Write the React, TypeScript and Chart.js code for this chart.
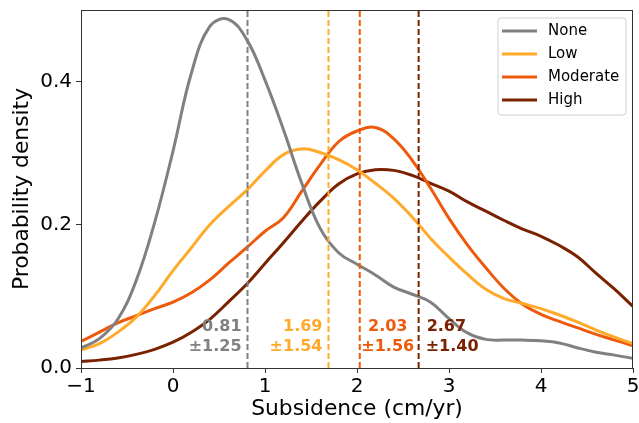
import React, { useEffect, useRef } from "react";
import { Chart, registerables } from "chart.js";

Chart.register(...registerables);

const xGrid = [-1, -0.8, -0.6, -0.4, -0.2, 0, 0.2, 0.4, 0.6, 0.8, 1.0, 1.2, 1.4, 1.6, 1.8, 2.0, 2.2, 2.4, 2.6, 2.8, 3.0, 3.2, 3.4, 3.6, 3.8, 4.0, 4.2, 4.4, 4.6, 4.8, 5.0];

const noneVals = [0.028, 0.041, 0.068, 0.122, 0.203, 0.303, 0.412, 0.477, 0.487, 0.459, 0.402, 0.333, 0.258, 0.195, 0.161, 0.145, 0.13, 0.113, 0.103, 0.092, 0.069, 0.049, 0.04, 0.039, 0.039, 0.038, 0.035, 0.028, 0.022, 0.018, 0.0135];
const lowVals = [0.025, 0.034, 0.05, 0.071, 0.101, 0.136, 0.168, 0.2, 0.225, 0.248, 0.275, 0.298, 0.306, 0.301, 0.291, 0.277, 0.258, 0.237, 0.211, 0.181, 0.155, 0.131, 0.11, 0.097, 0.09, 0.083, 0.074, 0.064, 0.053, 0.043, 0.034];
const moderateVals = [0.037, 0.05, 0.063, 0.073, 0.083, 0.092, 0.105, 0.123, 0.146, 0.168, 0.191, 0.21, 0.247, 0.284, 0.316, 0.331, 0.336, 0.32, 0.29, 0.251, 0.209, 0.172, 0.14, 0.111, 0.089, 0.075, 0.065, 0.056, 0.047, 0.039, 0.031];
const highVals = [0.009, 0.011, 0.014, 0.019, 0.026, 0.036, 0.05, 0.068, 0.092, 0.117, 0.146, 0.175, 0.205, 0.233, 0.257, 0.271, 0.277, 0.276, 0.269, 0.258, 0.247, 0.232, 0.219, 0.206, 0.194, 0.184, 0.171, 0.155, 0.132, 0.11, 0.086];

const seriesLabels = ["None", "Low", "Moderate", "High"];
const seriesColors = ["#808080", "#FFAA2A", "#EE5A0C", "#7A2100"];
const seriesValues = [noneVals, lowVals, moderateVals, highVals];
const means = [0.81, 1.69, 2.03, 2.67];
const stds = [1.25, 1.54, 1.56, 1.4];
const xTicks = [-1, 0, 1, 2, 3, 4, 5];
const yTicks = [0.0, 0.2, 0.4];

const FONT = "'DejaVu Sans', sans-serif";

const framePlugin = {
  id: "frame",
  afterDatasetsDraw(chart: any) {
    const { ctx, chartArea: a } = chart;
    ctx.save();
    ctx.strokeStyle = "#333333";
    ctx.lineWidth = 1;
    ctx.strokeRect(a.left + 0.5, a.top + 0.5, a.right - a.left - 1, a.bottom - a.top);
    ctx.restore();
  },
};

const annotationPlugin = {
  id: "meanLabels",
  afterDatasetsDraw(chart: any) {
    const { ctx, scales } = chart;
    const xs = scales.x;
    const ys = scales.y;
    ctx.save();
    ctx.font = `bold 16px ${FONT}`;
    ctx.textBaseline = "middle";
    means.forEach((m, i) => {
      const px = xs.getPixelForValue(m);
      const l1 = m.toFixed(2);
      const l2 = "±" + stds[i].toFixed(2);
      const y1 = ys.getPixelForValue(0.057);
      const y2 = ys.getPixelForValue(0.029);
      ctx.fillStyle = seriesColors[i];
      if (i < 2) {
        ctx.textAlign = "right";
        ctx.fillText(l1, px - 6, y1);
        ctx.fillText(l2, px - 6, y2);
      } else if (i === 2) {
        ctx.textAlign = "center";
        ctx.fillText(l1, px + 28, y1);
        ctx.fillText(l2, px + 28, y2);
      } else {
        ctx.textAlign = "left";
        ctx.fillText(l1, px + 8, y1);
        ctx.fillText(l2, px + 7, y2);
      }
    });
    ctx.restore();
  },
};

const legendPlugin = {
  id: "boxLegend",
  afterDraw(chart: any) {
    const { ctx, chartArea: a } = chart;
    const w = 128;
    const h = 97;
    const x0 = a.right - 7 - w;
    const y0 = a.top + 8;
    ctx.save();
    ctx.beginPath();
    const r = 3;
    ctx.moveTo(x0 + r, y0);
    ctx.lineTo(x0 + w - r, y0);
    ctx.quadraticCurveTo(x0 + w, y0, x0 + w, y0 + r);
    ctx.lineTo(x0 + w, y0 + h - r);
    ctx.quadraticCurveTo(x0 + w, y0 + h, x0 + w - r, y0 + h);
    ctx.lineTo(x0 + r, y0 + h);
    ctx.quadraticCurveTo(x0, y0 + h, x0, y0 + h - r);
    ctx.lineTo(x0, y0 + r);
    ctx.quadraticCurveTo(x0, y0, x0 + r, y0);
    ctx.closePath();
    ctx.fillStyle = "rgba(255,255,255,0.8)";
    ctx.fill();
    ctx.strokeStyle = "#d0d0d0";
    ctx.lineWidth = 1;
    ctx.stroke();
    ctx.font = `15px ${FONT}`;
    ctx.textBaseline = "middle";
    ctx.textAlign = "left";
    seriesLabels.forEach((lab, i) => {
      const yy = y0 + 13 + i * 23;
      ctx.strokeStyle = seriesColors[i];
      ctx.lineWidth = 3;
      ctx.beginPath();
      ctx.moveTo(x0 + 4, yy);
      ctx.lineTo(x0 + 39, yy);
      ctx.stroke();
      ctx.fillStyle = "#000";
      ctx.fillText(lab, x0 + 50, yy);
    });
    ctx.restore();
  },
};

const zeroPad = (s: any) => {
  s.paddingTop = 0;
  s.paddingBottom = 0;
  s.paddingLeft = 0;
  s.paddingRight = 0;
};

export default function App() {
  const ref = useRef<HTMLCanvasElement | null>(null);
  useEffect(() => {
    document.body.style.margin = "0";
    if (!ref.current) return;
    const curveSets = seriesLabels.map((lab, i) => ({
      label: lab,
      data: xGrid.map((x, j) => ({ x, y: seriesValues[i][j] })),
      borderColor: seriesColors[i],
      borderWidth: 3,
      pointRadius: 0,
      tension: 0.4,
      fill: false,
    }));
    const meanSets = means.map((m, i) => ({
      label: seriesLabels[i] + " mean",
      data: [
        { x: m, y: 0 },
        { x: m, y: 0.5 },
      ],
      borderColor: seriesColors[i],
      borderWidth: 2,
      borderDash: [6, 3],
      pointRadius: 0,
      fill: false,
    }));
    const chart = new Chart(ref.current, {
      type: "line",
      data: { datasets: [...meanSets, ...curveSets] as any },
      options: {
        animation: false,
        responsive: true,
        maintainAspectRatio: false,
        layout: { padding: { top: 10, right: 6, left: 0, bottom: 0 } },
        plugins: { legend: { display: false }, tooltip: { enabled: false } },
        scales: {
          x: {
            type: "linear",
            min: -1,
            max: 5,
            afterBuildTicks: (s: any) => {
              s.ticks = xTicks.map((v) => ({ value: v }));
            },
            afterFit: (s: any) => {
              s.height = 55;
              zeroPad(s);
            },
            ticks: {
              color: "#000",
              font: { family: FONT, size: 20 },
              padding: 2,
              maxRotation: 0,
              autoSkip: false,
              callback: (v: any) => (v < 0 ? "\u2212" + Math.abs(v) : String(v)),
            },
            grid: { drawOnChartArea: false, drawTicks: true, tickLength: 5, color: "#333333" },
            border: { display: true, color: "#333333", width: 1 },
            title: {
              display: true,
              text: "Subsidence (cm/yr)",
              color: "#000",
              font: { family: FONT, size: 21.8 },
              padding: { top: 0, bottom: 1 },
            },
          },
          y: {
            type: "linear",
            min: 0,
            max: 0.5,
            afterBuildTicks: (s: any) => {
              s.ticks = yTicks.map((v) => ({ value: v }));
            },
            afterFit: (s: any) => {
              s.width = 81;
              zeroPad(s);
            },
            ticks: {
              color: "#000",
              font: { family: FONT, size: 20 },
              padding: 4,
              autoSkip: false,
              callback: (v: any) => Number(v).toFixed(1),
            },
            grid: { drawOnChartArea: false, drawTicks: true, tickLength: 5, color: "#333333" },
            border: { display: true, color: "#333333", width: 1 },
            title: {
              display: true,
              text: "Probability density",
              color: "#000",
              font: { family: FONT, size: 21.8 },
              padding: { top: 9, bottom: 0 },
            },
          },
        },
      },
      plugins: [framePlugin, annotationPlugin, legendPlugin],
    });
    return () => chart.destroy();
  }, []);
  return (
    <div style={{ width: 639, height: 423, position: "relative", background: "#fff" }}>
      <canvas ref={ref} />
    </div>
  );
}
